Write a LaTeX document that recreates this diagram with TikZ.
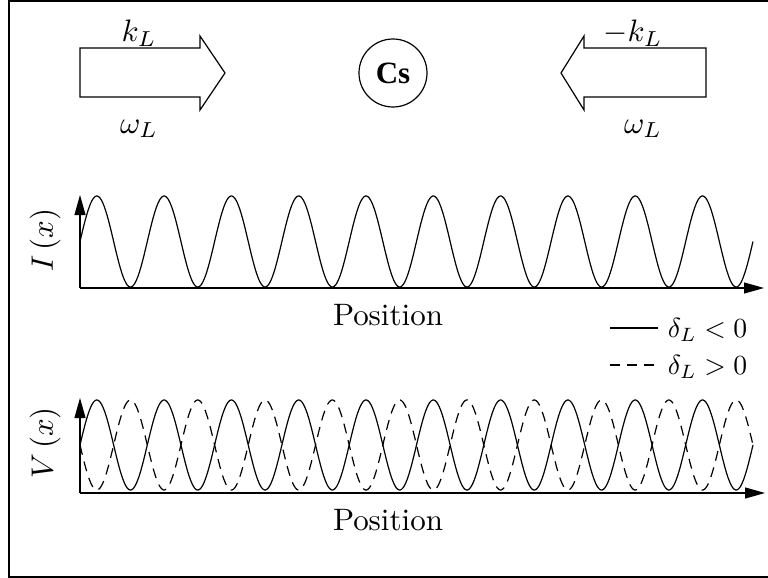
\documentclass[tikz,border=0pt]{standalone}
\usepackage{fontspec}
\newfontfamily\csfont{Liberation Serif}
\usetikzlibrary{arrows.meta}
\begin{document}
\begin{tikzpicture}[x=0.5pt,y=-0.5pt, line width=0.6pt,
  lbl/.style={font=\normalsize, scale=1.55, inner sep=0pt},
  lgd/.style={font=\normalsize, scale=1.38, inner sep=0pt},
  axis/.style={-{Triangle[length=10pt,width=5.5pt]}},
  dashwave/.style={dash pattern=on 5pt off 3.5pt}]
\useasboundingbox (0,0) rectangle (768,578);
% frame
\draw (769,1) -- (9,1) -- (9,577) -- (769,577);
% block arrows
\draw (80,48) -- (200,48) -- (200,36) -- (225,73) -- (200,110) -- (200,97) -- (80,97) -- cycle;
\draw (706,48) -- (584,48) -- (584,36) -- (561,73) -- (584,110) -- (584,97) -- (706,97) -- cycle;
\node[lbl] (kR) at (139,33) {$k_L$};
\node[lbl] (wR) at (139,129) {$\omega_L$};
\node[lbl] (kL) at (633,33) {$-k_L$};
\node[lbl] (wL) at (643,129) {$\omega_L$};
\node[draw, circle, minimum size=34pt, inner sep=0pt] (cs) at (393,73) {\csfont\bfseries\fontsize{15.5}{17}\selectfont Cs};
% top plot
\coordinate (o1) at (80,288);
\coordinate (y1) at (80,195);
\coordinate (x1) at (764,288);
\draw[axis] (o1) -- (y1);
\draw[axis] (o1) -- (x1);
\draw plot[domain=80:753, samples=501, smooth] (\x, {241.5-45.5*sin(5.34918*(\x-80))});
\node[lbl, rotate=90] (ilab) at (45,240) {$I\left(x\right)$};
\node[lbl] (pos1) at (388,315) {Position};
% legend
\coordinate (l1a) at (610,328);
\coordinate (l1b) at (658,328);
\coordinate (l2a) at (610,365);
\coordinate (l2b) at (658,365);
\draw (l1a) -- (l1b);
\draw[dashwave] (l2a) -- (l2b);
\node[lgd, anchor=base west] (lg1) at (667,337) {$\delta_L<0$};
\node[lgd, anchor=base west] (lg2) at (667,374) {$\delta_L>0$};
% bottom plot
\coordinate (o2) at (80,493);
\coordinate (y2) at (80,398);
\coordinate (x2) at (765,493);
\draw[axis] (o2) -- (y2);
\draw[axis] (o2) -- (x2);
\draw plot[domain=80:753, samples=501, smooth] (\x, {445-45*sin(5.34918*(\x-80))});
\draw[dashwave] plot[domain=80:753, samples=501, smooth] (\x, {445+45*sin(5.34918*(\x-80))});
\node[lbl, rotate=90] (vlab) at (45,443) {$V\left(x\right)$};
\node[lbl] (pos2) at (388,520) {Position};
\end{tikzpicture}
\end{document}
